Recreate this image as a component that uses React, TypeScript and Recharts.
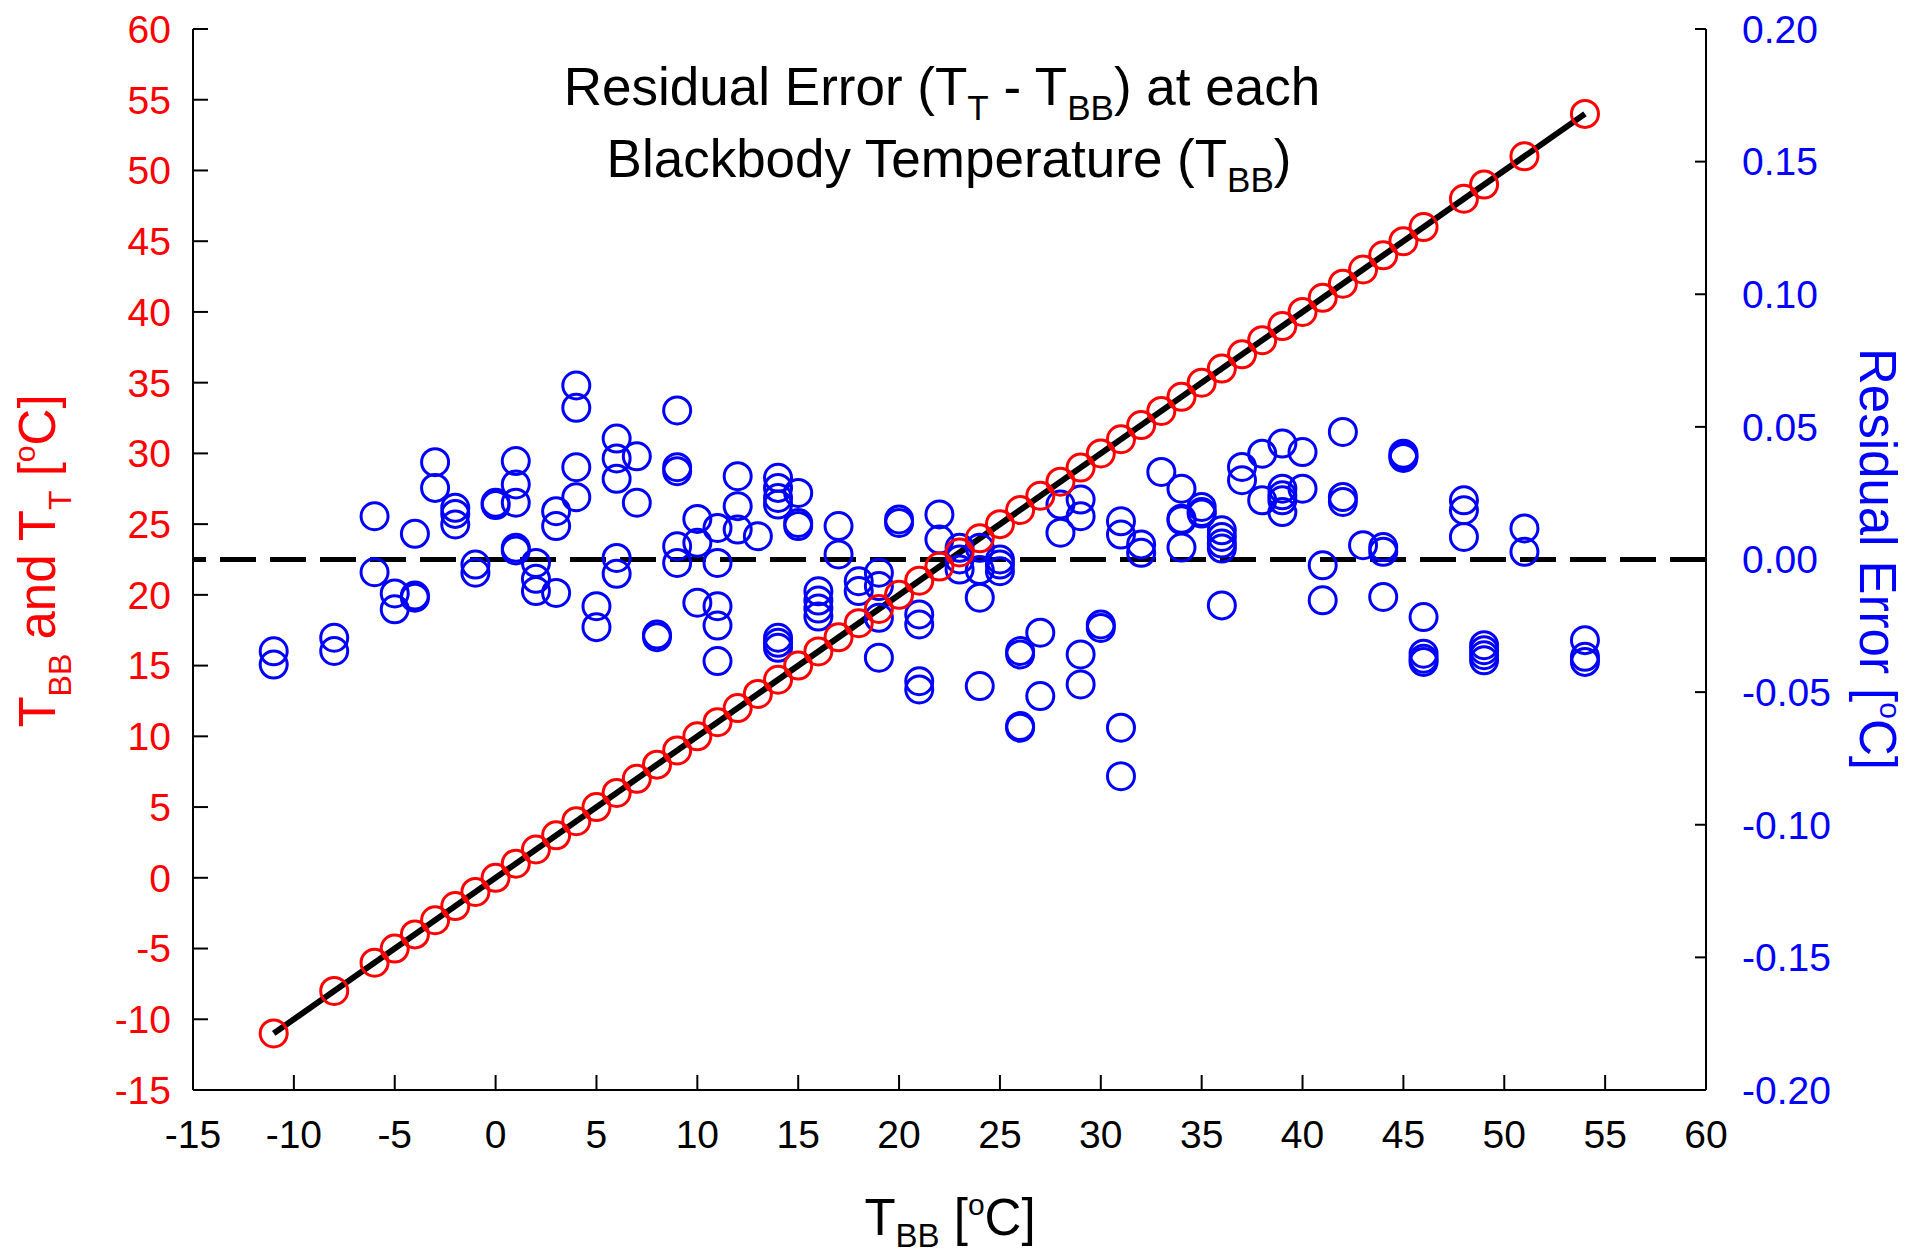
import React from 'react';
import { ComposedChart, XAxis, YAxis, Scatter, Line, ReferenceLine } from 'recharts';

// blackbody set points (T_BB) and thermometer readings (T_T), both in degC
const blackbodyTemps = [
  -11, -8, -6, -5, -4, -3, -2, -1, 0, 1, 2, 3, 4, 5, 6, 7, 8, 9, 10, 11, 12, 13, 14, 15, 16, 17, 18, 19,
  20, 21, 22, 23, 24, 25, 26, 27, 28, 29, 30, 31, 32, 33, 34, 35, 36, 37, 38, 39, 40, 41, 42, 43, 44, 45,
  46, 48, 49, 51, 54,
];
const thermometerTemps = [
  -11, -8, -6, -5, -4, -3, -2, -1, 0, 1, 2, 3, 4, 5, 6, 7, 8, 9, 10, 11, 12, 13, 14, 15, 16, 17, 18, 19,
  20, 21, 22, 23, 24, 25, 26, 27, 28, 29, 30, 31, 32, 33, 34, 35, 36, 37, 38, 39, 40, 41, 42, 43, 44, 45,
  46, 48, 49, 51, 54,
];

// residuals T_T - T_BB, one list per blackbody temperature
const residualsByTemp = [
  [-0.0346, -0.0396],
  [-0.0295, -0.0345],
  [0.0163, -0.0048],
  [-0.0128, -0.0188],
  [0.0097, -0.0136, -0.0144],
  [0.0367, 0.027],
  [0.0195, 0.0172, 0.0132],
  [-0.0019, -0.005],
  [0.0214, 0.0205],
  [0.0371, 0.0283, 0.0214, 0.0044, 0.0034],
  [-0.0013, -0.0073, -0.0119],
  [0.0182, 0.0126, -0.0126],
  [0.0656, 0.0572, 0.0348, 0.0235],
  [-0.0176, -0.0255],
  [0.0456, 0.0381, 0.0304, 0.0006, -0.0054],
  [0.0389, 0.0214],
  [-0.0283, -0.0293],
  [0.0562, 0.0348, 0.0333, 0.005, -0.0013],
  [0.0153, 0.0063, -0.0163],
  [0.0119, -0.0013, -0.0176, -0.0249, -0.0383],
  [0.0314, 0.0201, 0.0113],
  [0.0088],
  [0.0308, 0.027, 0.0232, 0.0207, -0.0295, -0.0314, -0.0333],
  [0.0251, 0.0138, 0.0126],
  [-0.012, -0.0155, -0.0185, -0.0215],
  [0.0126, 0.0019],
  [-0.0082, -0.0119],
  [-0.005, -0.01, -0.022, -0.037],
  [0.0151, 0.0138],
  [-0.0207, -0.0245, -0.0459, -0.049],
  [0.017, 0.0075],
  [0.0044, 0.0, -0.0038],
  [0.0044, -0.004, -0.0144, -0.0477],
  [0.0, -0.0019, -0.0044],
  [-0.0345, -0.0358, -0.0628, -0.0634],
  [-0.0276, -0.0515],
  [0.0207, 0.0101],
  [0.0226, 0.0163, -0.0358, -0.0471],
  [-0.0245, -0.0258],
  [0.0144, 0.0094, -0.0634, -0.0817],
  [0.0057, 0.0025],
  [0.033],
  [0.0267, 0.0154, 0.0148, 0.0045],
  [0.0198, 0.0179, 0.0173],
  [0.011, 0.0085, 0.006, 0.0041, -0.0173],
  [0.0349, 0.0299],
  [0.0399, 0.0223],
  [0.0437, 0.0267, 0.0242, 0.0223, 0.0179],
  [0.0405, 0.0267],
  [-0.0022, -0.0154],
  [0.0481, 0.0236, 0.0217],
  [0.0054],
  [0.0047, 0.0029, -0.0141],
  [0.0399, 0.039, 0.0383],
  [-0.0217, -0.0355, -0.0374, -0.0386],
  [0.0223, 0.0186, 0.0085],
  [-0.0323, -0.0342, -0.0361, -0.038],
  [0.0117, 0.0029],
  [-0.0304, -0.0367, -0.0386],
];

const fitLineTbb = [-11, 54];
const fitLineTt = [-11, 54];

const xTicks = [-15, -10, -5, 0, 5, 10, 15, 20, 25, 30, 35, 40, 45, 50, 55, 60];
const leftTicks = [-15, -10, -5, 0, 5, 10, 15, 20, 25, 30, 35, 40, 45, 50, 55, 60];
const rightTicks = [-0.2, -0.15, -0.1, -0.05, 0, 0.05, 0.1, 0.15, 0.2];

const FONT = '"Liberation Sans", Arial, sans-serif';
const RED = '#ff0000';
const BLUE = '#0000ff';

const tempData = blackbodyTemps.map((t, i) => ({ x: t, y: thermometerTemps[i] }));
const residualData = blackbodyTemps.flatMap((t, i) => residualsByTemp[i].map((r) => ({ x: t, y: r })));
const fitData = fitLineTbb.map((t, i) => ({ x: t, y: fitLineTt[i] }));

const ring = (color: string) => (props: any) => (
  <circle cx={props.cx} cy={props.cy} r={13.5} fill="none" stroke={color} strokeWidth={3} />
);

const axisLine = { stroke: '#000', strokeWidth: 2 };

const App: React.FC = () => {
  const W = 1895;
  const H = 1242;
  return (
    <div style={{ position: 'relative', width: W, height: H, fontFamily: FONT }}>
      <ComposedChart width={W} height={H} margin={{ top: 21, right: 0, bottom: 0, left: 0 }}>
        <XAxis
          xAxisId="b"
          dataKey="x"
          type="number"
          domain={[-15, 60]}
          ticks={xTicks}
          interval={0}
          allowDataOverflow
          height={160}
          tickSize={-15}
          tickMargin={45}
          axisLine={axisLine}
          tickLine={axisLine}
          tick={{ fill: '#000', fontSize: 39, fontFamily: FONT }}
        />
        <XAxis
          xAxisId="t"
          orientation="top"
          dataKey="x"
          type="number"
          domain={[-15, 60]}
          ticks={xTicks}
          interval={0}
          allowDataOverflow
          height={0}
          tickSize={-15}
          tick={false}
          axisLine={axisLine}
          tickLine={axisLine}
        />
        <YAxis
          yAxisId="l"
          dataKey="y"
          type="number"
          domain={[-15, 60]}
          ticks={leftTicks}
          interval={0}
          allowDataOverflow
          width={185}
          tickSize={-15}
          tickMargin={37}
          axisLine={axisLine}
          tickLine={axisLine}
          tick={{ fill: RED, fontSize: 39, fontFamily: FONT }}
        />
        <YAxis
          yAxisId="r"
          orientation="right"
          dataKey="y"
          type="number"
          domain={[-0.2, 0.2]}
          ticks={rightTicks}
          interval={0}
          allowDataOverflow
          width={197}
          tickSize={-11}
          tickMargin={47}
          axisLine={axisLine}
          tickLine={axisLine}
          tickFormatter={(v: number) => v.toFixed(2)}
          tick={{ fill: BLUE, fontSize: 39, fontFamily: FONT, textAnchor: 'start' }}
        />
        <Scatter
          xAxisId="b"
          yAxisId="r"
          data={residualData}
          dataKey="y"
          shape={ring(BLUE)}
          isAnimationActive={false}
        />
        <ReferenceLine
          xAxisId="b"
          yAxisId="r"
          y={0}
          stroke="#000"
          strokeWidth={5}
          strokeDasharray="36 14"
        />
        <Scatter
          xAxisId="b"
          yAxisId="l"
          data={tempData}
          dataKey="y"
          shape={ring(RED)}
          isAnimationActive={false}
        />
        <Line
          xAxisId="b"
          yAxisId="l"
          data={fitData}
          dataKey="y"
          stroke="#000"
          strokeWidth={6}
          dot={false}
          activeDot={false}
          isAnimationActive={false}
        />
      </ComposedChart>
      <svg
        width={W}
        height={H}
        style={{ position: 'absolute', left: 0, top: 0, pointerEvents: 'none', overflow: 'visible' }}
        fontFamily={FONT}
      >
        <text x={934} y={97} fontSize={53} textAnchor="middle" fill="#000">
          Residual Error (T
          <tspan fontSize={35} dy={15}>T</tspan>
          <tspan dy={-15}> - T</tspan>
          <tspan fontSize={35} dy={15}>BB</tspan>
          <tspan dy={-15}>) at each</tspan>
        </text>
        <text x={941} y={169} fontSize={53} textAnchor="middle" fill="#000">
          Blackbody Temperature (T
          <tspan fontSize={35} dy={15}>BB</tspan>
          <tspan dy={-15}>)</tspan>
        </text>
        <text x={942} y={1227} fontSize={51} textAnchor="middle" fill="#000">
          T
          <tspan fontSize={33} dy={12}>BB</tspan>
          <tspan dy={-12}> [</tspan>
          <tspan fontSize={30} dy={-20}>o</tspan>
          <tspan dy={20}>C]</tspan>
        </text>
        <text x={47} y={553} fontSize={51} textAnchor="middle" fill={RED} transform="rotate(-90 47 553)">
          T
          <tspan fontSize={32} dy={16}>BB</tspan>
          <tspan dy={-16}> and T</tspan>
          <tspan fontSize={32} dy={16}>T</tspan>
          <tspan dy={-16}> [</tspan>
          <tspan fontSize={30} dy={-20}>o</tspan>
          <tspan dy={20}>C]</tspan>
        </text>
        <text x={1852} y={551} fontSize={51} textAnchor="middle" fill={BLUE} transform="rotate(90 1852 551)">
          Residual Error [<tspan fontSize={30} dy={-20}>o</tspan>
          <tspan dy={20}>C]</tspan>
        </text>
      </svg>
    </div>
  );
};

export default App;
